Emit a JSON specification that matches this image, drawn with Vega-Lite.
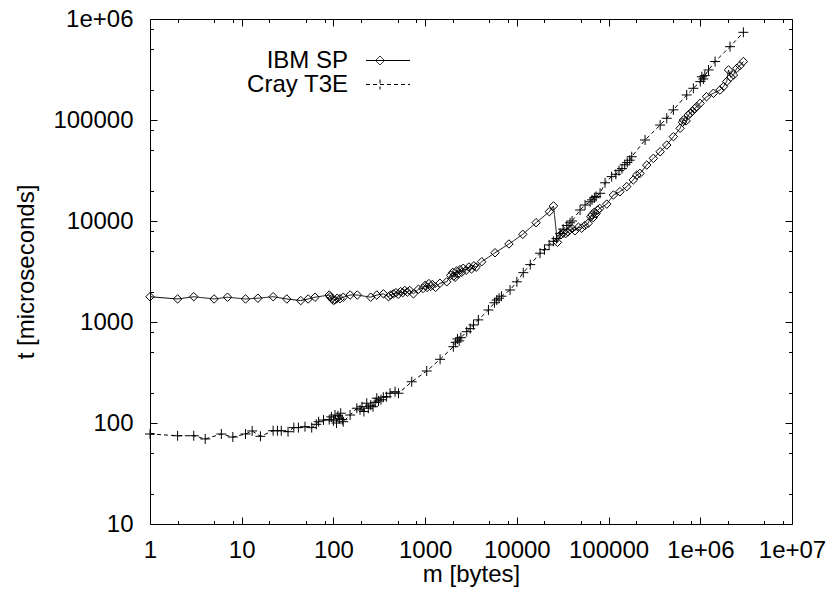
{
  "$schema": "https://vega.github.io/schema/vega-lite/v6.json",
  "autosize": "none",
  "width": 642,
  "height": 505,
  "padding": {"left": 150, "top": 19, "right": 37, "bottom": 65},
  "background": "white",
  "config": {
    "view": {"stroke": null},
    "font": "Liberation Sans",
    "axis": {
      "domainColor": "black", "domainWidth": 1, "tickColor": "black", "tickWidth": 1,
      "labelColor": "black", "titleColor": "black", "grid": false,
      "labelFont": "Liberation Sans", "titleFont": "Liberation Sans",
      "labelFontSize": 24, "titleFontSize": 24, "titleFontWeight": "normal",
      "labelFlush": false, "labelOverlap": false, "labelBound": false
    }
  },
  "data": {"values": [
    {"series":"IBM SP","m":1,"t":1780},{"series":"IBM SP","m":2,"t":1690},{"series":"IBM SP","m":3,"t":1780},{"series":"IBM SP","m":5,"t":1690},
    {"series":"IBM SP","m":7,"t":1760},{"series":"IBM SP","m":11,"t":1690},{"series":"IBM SP","m":15,"t":1720},{"series":"IBM SP","m":22,"t":1780},
    {"series":"IBM SP","m":31,"t":1690},{"series":"IBM SP","m":44,"t":1630},{"series":"IBM SP","m":53,"t":1690},{"series":"IBM SP","m":63,"t":1760},
    {"series":"IBM SP","m":90,"t":1850},{"series":"IBM SP","m":92,"t":1780},{"series":"IBM SP","m":96,"t":1700},{"series":"IBM SP","m":100,"t":1640},
    {"series":"IBM SP","m":104,"t":1650},{"series":"IBM SP","m":110,"t":1720},{"series":"IBM SP","m":118,"t":1700},{"series":"IBM SP","m":128,"t":1760},
    {"series":"IBM SP","m":152,"t":1850},{"series":"IBM SP","m":182,"t":1850},{"series":"IBM SP","m":255,"t":1760},{"series":"IBM SP","m":297,"t":1850},
    {"series":"IBM SP","m":351,"t":1900},{"series":"IBM SP","m":398,"t":1780},{"series":"IBM SP","m":420,"t":1850},{"series":"IBM SP","m":450,"t":1900},
    {"series":"IBM SP","m":480,"t":1950},{"series":"IBM SP","m":510,"t":1880},{"series":"IBM SP","m":540,"t":2000},{"series":"IBM SP","m":570,"t":1950},
    {"series":"IBM SP","m":600,"t":2050},{"series":"IBM SP","m":640,"t":1980},{"series":"IBM SP","m":680,"t":2050},{"series":"IBM SP","m":745,"t":1900},
    {"series":"IBM SP","m":845,"t":2110},{"series":"IBM SP","m":950,"t":2150},{"series":"IBM SP","m":1000,"t":2300},{"series":"IBM SP","m":1050,"t":2200},
    {"series":"IBM SP","m":1100,"t":2400},{"series":"IBM SP","m":1150,"t":2250},{"series":"IBM SP","m":1200,"t":2350},{"series":"IBM SP","m":1300,"t":2200},
    {"series":"IBM SP","m":1450,"t":2420},{"series":"IBM SP","m":1720,"t":2500},{"series":"IBM SP","m":1900,"t":2900},{"series":"IBM SP","m":2000,"t":3100},
    {"series":"IBM SP","m":2050,"t":2850},{"series":"IBM SP","m":2120,"t":2770},{"series":"IBM SP","m":2200,"t":3200},{"series":"IBM SP","m":2300,"t":3000},
    {"series":"IBM SP","m":2400,"t":3300},{"series":"IBM SP","m":2500,"t":3100},{"series":"IBM SP","m":2600,"t":3400},{"series":"IBM SP","m":2800,"t":3250},
    {"series":"IBM SP","m":3000,"t":3500},{"series":"IBM SP","m":3200,"t":3350},{"series":"IBM SP","m":3400,"t":3600},{"series":"IBM SP","m":3600,"t":3500},
    {"series":"IBM SP","m":4140,"t":3950},{"series":"IBM SP","m":5780,"t":4850},{"series":"IBM SP","m":8200,"t":5920},{"series":"IBM SP","m":11600,"t":7380},
    {"series":"IBM SP","m":16200,"t":9620},{"series":"IBM SP","m":22600,"t":12360},{"series":"IBM SP","m":25100,"t":14100},{"series":"IBM SP","m":27700,"t":6150},
    {"series":"IBM SP","m":30000,"t":7300},{"series":"IBM SP","m":32000,"t":7600},{"series":"IBM SP","m":34000,"t":7500},{"series":"IBM SP","m":36000,"t":7800},
    {"series":"IBM SP","m":38000,"t":8200},{"series":"IBM SP","m":40000,"t":8400},{"series":"IBM SP","m":43000,"t":8000},{"series":"IBM SP","m":46900,"t":8670},
    {"series":"IBM SP","m":50900,"t":8500},{"series":"IBM SP","m":55000,"t":9000},{"series":"IBM SP","m":60000,"t":9500},{"series":"IBM SP","m":64000,"t":11000},
    {"series":"IBM SP","m":66000,"t":11500},{"series":"IBM SP","m":68000,"t":10800},{"series":"IBM SP","m":70000,"t":12200},{"series":"IBM SP","m":73000,"t":11800},
    {"series":"IBM SP","m":76000,"t":12800},{"series":"IBM SP","m":80000,"t":13300},{"series":"IBM SP","m":95500,"t":14700},{"series":"IBM SP","m":113000,"t":18100},
    {"series":"IBM SP","m":133000,"t":19500},{"series":"IBM SP","m":158000,"t":21900},{"series":"IBM SP","m":186000,"t":25500},{"series":"IBM SP","m":203000,"t":28500},
    {"series":"IBM SP","m":220000,"t":29600},{"series":"IBM SP","m":261000,"t":35800},{"series":"IBM SP","m":308000,"t":41700},{"series":"IBM SP","m":365000,"t":48500},
    {"series":"IBM SP","m":431000,"t":56500},{"series":"IBM SP","m":509000,"t":68400},{"series":"IBM SP","m":603000,"t":82800},{"series":"IBM SP","m":640000,"t":95000},
    {"series":"IBM SP","m":655000,"t":100000},{"series":"IBM SP","m":700000,"t":98000},{"series":"IBM SP","m":740000,"t":112000},{"series":"IBM SP","m":775000,"t":116000},
    {"series":"IBM SP","m":820000,"t":122000},{"series":"IBM SP","m":870000,"t":130000},{"series":"IBM SP","m":916000,"t":135500},{"series":"IBM SP","m":995000,"t":146000},
    {"series":"IBM SP","m":1170000,"t":170000},{"series":"IBM SP","m":1390000,"t":184000},{"series":"IBM SP","m":1640000,"t":198000},{"series":"IBM SP","m":1800000,"t":215000},
    {"series":"IBM SP","m":1940000,"t":240000},{"series":"IBM SP","m":2030000,"t":313000},{"series":"IBM SP","m":2150000,"t":265000},{"series":"IBM SP","m":2300000,"t":279000},
    {"series":"IBM SP","m":2500000,"t":325000},{"series":"IBM SP","m":2700000,"t":345000},{"series":"IBM SP","m":2950000,"t":379000},

    {"series":"Cray T3E","m":1,"t":77.8},{"series":"Cray T3E","m":2,"t":74.8},{"series":"Cray T3E","m":3,"t":74.8},{"series":"Cray T3E","m":4,"t":69.5},
    {"series":"Cray T3E","m":6,"t":77.8},{"series":"Cray T3E","m":8,"t":72.6},{"series":"Cray T3E","m":11,"t":77.8},{"series":"Cray T3E","m":13,"t":83.4},
    {"series":"Cray T3E","m":16,"t":73.8},{"series":"Cray T3E","m":22,"t":83.9},{"series":"Cray T3E","m":24.5,"t":83.9},{"series":"Cray T3E","m":27,"t":83.9},
    {"series":"Cray T3E","m":32,"t":82},{"series":"Cray T3E","m":37,"t":90},{"series":"Cray T3E","m":41.5,"t":90},{"series":"Cray T3E","m":49,"t":92},
    {"series":"Cray T3E","m":58,"t":90},{"series":"Cray T3E","m":65,"t":97},{"series":"Cray T3E","m":69,"t":103},{"series":"Cray T3E","m":78,"t":107},
    {"series":"Cray T3E","m":90,"t":108},{"series":"Cray T3E","m":95,"t":115},{"series":"Cray T3E","m":100,"t":105},{"series":"Cray T3E","m":104,"t":120},
    {"series":"Cray T3E","m":108,"t":100},{"series":"Cray T3E","m":112,"t":118},{"series":"Cray T3E","m":116,"t":110},{"series":"Cray T3E","m":120,"t":125},
    {"series":"Cray T3E","m":125,"t":108},{"series":"Cray T3E","m":128,"t":103},{"series":"Cray T3E","m":152,"t":120},{"series":"Cray T3E","m":180,"t":140},
    {"series":"Cray T3E","m":195,"t":135},{"series":"Cray T3E","m":205,"t":145},{"series":"Cray T3E","m":215,"t":130},{"series":"Cray T3E","m":231,"t":157},
    {"series":"Cray T3E","m":240,"t":140},{"series":"Cray T3E","m":255,"t":150},{"series":"Cray T3E","m":270,"t":145},{"series":"Cray T3E","m":285,"t":160},
    {"series":"Cray T3E","m":297,"t":176},{"series":"Cray T3E","m":310,"t":165},{"series":"Cray T3E","m":330,"t":170},{"series":"Cray T3E","m":350,"t":180},
    {"series":"Cray T3E","m":380,"t":182},{"series":"Cray T3E","m":414,"t":197},{"series":"Cray T3E","m":470,"t":204},{"series":"Cray T3E","m":512,"t":197},
    {"series":"Cray T3E","m":714,"t":256},{"series":"Cray T3E","m":1040,"t":327},{"series":"Cray T3E","m":1455,"t":427},{"series":"Cray T3E","m":2030,"t":569},
    {"series":"Cray T3E","m":2150,"t":630},{"series":"Cray T3E","m":2250,"t":680},{"series":"Cray T3E","m":2350,"t":650},{"series":"Cray T3E","m":2450,"t":700},
    {"series":"Cray T3E","m":2840,"t":802},{"series":"Cray T3E","m":3100,"t":860},{"series":"Cray T3E","m":3370,"t":935},{"series":"Cray T3E","m":3800,"t":1050},
    {"series":"Cray T3E","m":4900,"t":1316},{"series":"Cray T3E","m":5700,"t":1550},{"series":"Cray T3E","m":6030,"t":1650},{"series":"Cray T3E","m":6400,"t":1720},
    {"series":"Cray T3E","m":6800,"t":1800},{"series":"Cray T3E","m":8430,"t":2075},{"series":"Cray T3E","m":10000,"t":2500},{"series":"Cray T3E","m":11750,"t":3080},
    {"series":"Cray T3E","m":14000,"t":3700},{"series":"Cray T3E","m":17900,"t":4800},{"series":"Cray T3E","m":20000,"t":5200},{"series":"Cray T3E","m":22500,"t":5800},
    {"series":"Cray T3E","m":25000,"t":6300},{"series":"Cray T3E","m":27000,"t":6700},{"series":"Cray T3E","m":29600,"t":7550},{"series":"Cray T3E","m":32000,"t":8300},
    {"series":"Cray T3E","m":35000,"t":9000},{"series":"Cray T3E","m":38000,"t":9600},{"series":"Cray T3E","m":40000,"t":10000},{"series":"Cray T3E","m":48900,"t":12850},
    {"series":"Cray T3E","m":55400,"t":14400},{"series":"Cray T3E","m":63000,"t":15500},{"series":"Cray T3E","m":66000,"t":16200},{"series":"Cray T3E","m":70000,"t":17000},
    {"series":"Cray T3E","m":73000,"t":17500},{"series":"Cray T3E","m":80800,"t":18800},{"series":"Cray T3E","m":91600,"t":23900},{"series":"Cray T3E","m":108000,"t":27500},
    {"series":"Cray T3E","m":120000,"t":29000},{"series":"Cray T3E","m":130000,"t":31500},{"series":"Cray T3E","m":140000,"t":33000},{"series":"Cray T3E","m":150000,"t":36000},
    {"series":"Cray T3E","m":160000,"t":38000},{"series":"Cray T3E","m":170000,"t":40000},{"series":"Cray T3E","m":179000,"t":43300},{"series":"Cray T3E","m":250000,"t":63400},
    {"series":"Cray T3E","m":365000,"t":89100},{"series":"Cray T3E","m":431000,"t":104000},{"series":"Cray T3E","m":509000,"t":126000},{"series":"Cray T3E","m":711000,"t":177000},
    {"series":"Cray T3E","m":841000,"t":206000},{"series":"Cray T3E","m":1000000,"t":240000},{"series":"Cray T3E","m":1040000,"t":268000},{"series":"Cray T3E","m":1080000,"t":255000},
    {"series":"Cray T3E","m":1120000,"t":275000},{"series":"Cray T3E","m":1230000,"t":313000},{"series":"Cray T3E","m":1450000,"t":379000},{"series":"Cray T3E","m":2110000,"t":532000},
    {"series":"Cray T3E","m":2950000,"t":738000}
  ]},
  "resolve": {"axis": {"x": "independent", "y": "independent"}},
  "layer": [
    {
      "transform": [{"filter": "datum.series === 'IBM SP'"}],
      "mark": {"type": "line", "color": "black", "strokeWidth": 1},
      "encoding": {
        "x": {"field": "m", "type": "quantitative",
          "scale": {"type": "log", "domain": [1, 10000000], "nice": false},
          "axis": {"orient": "bottom", "values": [1, 10, 100, 1000, 10000, 100000, 1000000, 10000000],
            "labelExpr": "datum.value >= 10000000 ? '1e+07' : datum.value >= 1000000 ? '1e+06' : format(datum.value, 'd')",
            "tickSize": -7, "labelPadding": 40, "labelBaseline": "alphabetic", "labelAlign": "center",
            "title": "m [bytes]", "titleY": 57, "titleBaseline": "alphabetic"}},
        "y": {"field": "t", "type": "quantitative",
          "scale": {"type": "log", "domain": [10, 1000000], "nice": false},
          "axis": {"orient": "left", "values": [10, 100, 1000, 10000, 100000, 1000000],
            "labelExpr": "datum.value >= 1000000 ? '1e+06' : format(datum.value, 'd')",
            "tickSize": -7, "labelPadding": 24, "labelBaseline": "middle", "labelAlign": "right",
            "title": "t [microseconds]", "titleX": -116.5, "titleY": 252.5, "titleAngle": -90,
            "titleBaseline": "alphabetic", "titleAlign": "center"}},
        "strokeDash": {"field": "series", "type": "nominal",
          "scale": {"domain": ["IBM SP", "Cray T3E"], "range": [[1, 0], [4, 3]]},
          "legend": {"orient": "none", "legendX": 198, "legendY": 29.5, "title": null,
            "labelFontSize": 24, "labelFont": "Liberation Sans", "labelColor": "black", "labelLimit": 0,
            "symbolSize": 400, "symbolStrokeWidth": 1, "symbolStrokeColor": "black", "symbolFillColor": "transparent",
            "rowPadding": -3, "padding": 0,
            "encode": {
              "symbols": {"update": {
                "shape": {"signal": "datum.value === 'IBM SP' ? 'M-2.2,0L2.2,0M-1.25,0L-0.8,-0.45L-0.35,0L-0.8,0.45Z' : 'M-0.8,-0.5L-0.8,0.5M-2.2,0L2.2,0'"},
                "x": {"value": 40},
                "fill": {"value": "transparent"},
                "stroke": {"value": "black"}}},
              "labels": {"update": {"x": {"value": 0}, "align": {"value": "right"}}}
            }}}
      }
    },
    {
      "transform": [{"filter": "datum.series === 'IBM SP'"}],
      "mark": {"type": "point", "shape": "diamond", "size": 72, "filled": false, "color": "black", "strokeWidth": 1, "opacity": 1},
      "encoding": {
        "x": {"field": "m", "type": "quantitative",
          "axis": {"orient": "bottom", "values": [2, 5, 8, 20, 50, 80, 200, 500, 800, 2000, 5000, 8000, 20000, 50000, 80000, 200000, 500000, 800000, 2000000, 5000000, 8000000],
            "labels": false, "domain": false, "tickSize": -3.5, "title": null}},
        "y": {"field": "t", "type": "quantitative",
          "axis": {"orient": "left", "values": [20, 50, 80, 200, 500, 800, 2000, 5000, 8000, 20000, 50000, 80000, 200000, 500000, 800000],
            "labels": false, "domain": false, "tickSize": -3.5, "title": null}}
      }
    },
    {
      "transform": [{"filter": "datum.series === 'Cray T3E'"}],
      "mark": {"type": "line", "color": "black", "strokeWidth": 1},
      "encoding": {
        "x": {"field": "m", "type": "quantitative",
          "axis": {"orient": "top", "values": [1, 10, 100, 1000, 10000, 100000, 1000000, 10000000],
            "labels": false, "tickSize": -7, "title": null}},
        "y": {"field": "t", "type": "quantitative",
          "axis": {"orient": "right", "values": [10, 100, 1000, 10000, 100000, 1000000],
            "labels": false, "tickSize": -7, "title": null}},
        "strokeDash": {"field": "series", "type": "nominal",
          "scale": {"domain": ["IBM SP", "Cray T3E"], "range": [[1, 0], [4, 3]]}}
      }
    },
    {
      "transform": [{"filter": "datum.series === 'Cray T3E'"}],
      "mark": {"type": "point", "shape": "M-1,0L1,0M0,-1L0,1", "size": 100, "filled": false, "color": "black", "strokeWidth": 1, "opacity": 1},
      "encoding": {
        "x": {"field": "m", "type": "quantitative",
          "axis": {"orient": "top", "values": [2, 5, 8, 20, 50, 80, 200, 500, 800, 2000, 5000, 8000, 20000, 50000, 80000, 200000, 500000, 800000, 2000000, 5000000, 8000000],
            "labels": false, "domain": false, "tickSize": -3.5, "title": null}},
        "y": {"field": "t", "type": "quantitative",
          "axis": {"orient": "right", "values": [20, 50, 80, 200, 500, 800, 2000, 5000, 8000, 20000, 50000, 80000, 200000, 500000, 800000],
            "labels": false, "domain": false, "tickSize": -3.5, "title": null}}
      }
    }
  ]
}
